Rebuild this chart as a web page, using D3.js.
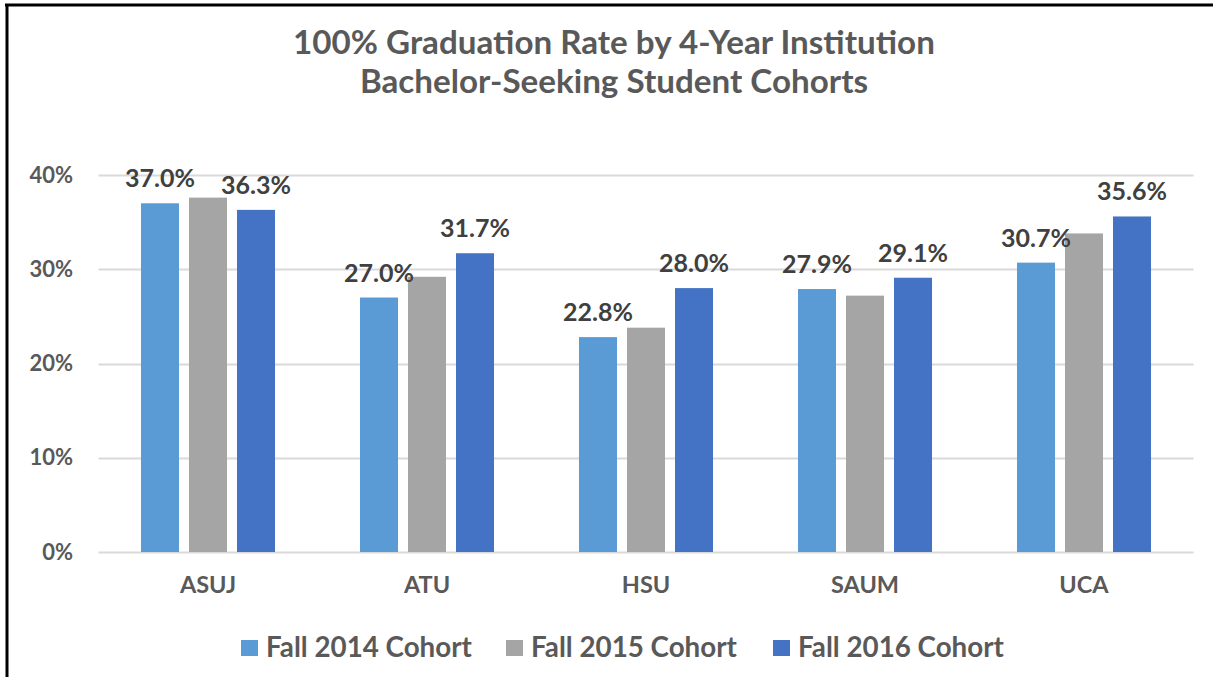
<!DOCTYPE html>
<html><head><meta charset="utf-8">
<script src="https://cdn.jsdelivr.net/npm/d3@7"></script>
<style>
html,body{margin:0;padding:0;background:#fff;}
svg{display:block;font-family:Lato,"Open Sans",sans-serif;font-weight:bold;}
</style></head>
<body>
<svg id="chart" width="1213" height="677"></svg>
<script>
const titleLines = ["100% Graduation Rate by 4-Year Institution", "Bachelor-Seeking Student Cohorts"];
const categories = ["ASUJ", "ATU", "HSU", "SAUM", "UCA"];
const seriesNames = ["Fall 2014 Cohort", "Fall 2015 Cohort", "Fall 2016 Cohort"];
const fall2014 = [37.0, 27.0, 22.8, 27.9, 30.7];
const fall2015 = [37.6, 29.2, 23.8, 27.2, 33.8];
const fall2016 = [36.3, 31.7, 28.0, 29.1, 35.6];
const showLabels = [true, false, true];
const yTicks = [0, 10, 20, 30, 40];
const colors = ["#5B9BD5", "#A5A5A5", "#4472C4"];

const seriesValues = [fall2014, fall2015, fall2016];
const svg = d3.select("#chart");

// border
svg.append("line").attr("x1", 5).attr("x2", 1213).attr("y1", 5).attr("y2", 5).attr("stroke", "#000").attr("stroke-width", 3);
svg.append("line").attr("x1", 7).attr("x2", 7).attr("y1", 4).attr("y2", 677).attr("stroke", "#000").attr("stroke-width", 3);

const x0 = d3.scaleBand().domain(categories).range([98.5, 1193.5]).paddingInner(0).paddingOuter(0);
const x1 = d3.scaleBand().domain(d3.range(3)).range([0, x0.bandwidth()]).paddingInner(10 / 48).paddingOuter(0.885);
const y = d3.scaleLinear().domain([0, 40]).range([552, 175]);

function fit(sel, w) {
  sel.each(function() {
    const len = this.getComputedTextLength();
    const fs = parseFloat(this.style.fontSize);
    this.style.fontSize = (fs * w / len) + "px";
  });
}

// gridlines
svg.append("g").selectAll("line").data(yTicks).join("line")
  .attr("x1", 98.5).attr("x2", 1193.5)
  .attr("y1", d => Math.round(y(d)) + 0.5).attr("y2", d => Math.round(y(d)) + 0.5)
  .attr("stroke", "#D9D9D9").attr("stroke-width", 2);

// y axis labels
const yAxis = d3.axisLeft(y).tickValues(yTicks).tickFormat(d => d + "%").tickSize(0).tickPadding(0);
const yg = svg.append("g").attr("transform", "translate(73,0)").call(yAxis);
yg.select(".domain").remove();
yg.selectAll("text").attr("fill", "#595959").style("font-size", "22px").style("font-family", "Lato, sans-serif").style("font-weight", "bold");

// x axis labels
const xAxis = d3.axisBottom(x0).tickSize(0).tickPadding(0);
const xg = svg.append("g").attr("transform", "translate(0,576)").call(xAxis);
xg.select(".domain").remove();
xg.selectAll("text").attr("fill", "#595959").style("font-size", "23.5px").style("font-family", "Lato, sans-serif").style("font-weight", "bold");

// bars
const groups = svg.append("g").selectAll("g").data(categories).join("g")
  .attr("transform", d => `translate(${x0(d)},0)`);
groups.selectAll("rect").data((c, i) => seriesValues.map((s, k) => ({k, v: s[i]}))).join("rect")
  .attr("x", d => x1(d.k)).attr("width", x1.bandwidth())
  .attr("y", d => y(d.v)).attr("height", d => y(0) - y(d.v))
  .attr("fill", d => colors[d.k]);
groups.selectAll("text").data((c, i) => seriesValues.map((s, k) => ({k, v: s[i]})).filter(d => showLabels[d.k])).join("text")
  .attr("x", d => x1(d.k) + x1.bandwidth() / 2).attr("y", d => y(d.v) - 16)
  .attr("text-anchor", "middle").attr("fill", "#404040").style("font-size", "25px")
  .text(d => d.v.toFixed(1) + "%");

// title
const tl = svg.append("g").selectAll("text").data(titleLines).join("text")
  .attr("x", 614).attr("y", (d, i) => 54 + i * 39).attr("text-anchor", "middle")
  .attr("fill", "#595959").style("font-size", "25px").text(d => d);
fit(tl.filter((d, i) => i === 0), 642);
tl.filter((d, i) => i === 1).style("font-size", tl.filter((d, i) => i === 0).style("font-size"));

// legend
const legX = [241, 506, 773];
const lg = svg.append("g").selectAll("g").data(seriesNames).join("g")
  .attr("transform", (d, i) => `translate(${legX[i]},0)`);
lg.append("rect").attr("x", 0).attr("y", 640).attr("width", 17).attr("height", 16).attr("fill", (d, i) => colors[i]);
const lt = lg.append("text").attr("x", 25).attr("y", 657).attr("fill", "#595959").style("font-size", "23px").text(d => d);
fit(lt, 206);
</script>
</body></html>
